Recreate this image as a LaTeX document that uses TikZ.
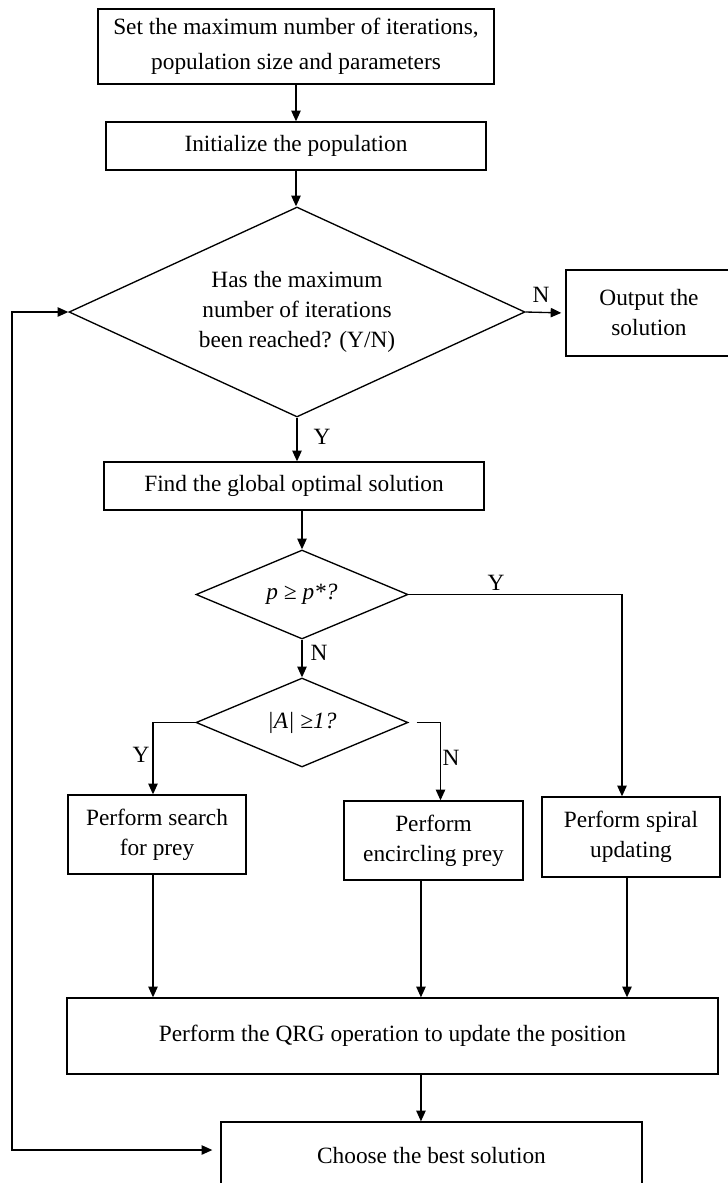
\documentclass[tikz,border=0pt]{standalone}
\usepackage{fontspec}
\setmainfont{Liberation Serif}
\usetikzlibrary{arrows.meta,shapes.geometric}

\newcommand{\flowfont}{\fontsize{17.5}{22.5}\selectfont}
\tikzset{every picture/.style={line width=1pt}}
\tikzset{
  flowbox/.style={draw, rectangle, inner sep=0pt, align=center, font=\flowfont},
  flowdiam/.style={draw, diamond, inner sep=0pt, align=center, font=\flowfont},
  flowlbl/.style={inner sep=0.75pt, font=\flowfont},
  flowarr/.style={-{Triangle[length=8pt,width=7pt]}},
  looparr/.style={{Triangle[length=8pt,width=7pt]}-{Triangle[length=8pt,width=7pt]}},
}

\begin{document}
\begin{tikzpicture}[x=0.75pt,y=0.75pt,yscale=-1,xscale=1]
\useasboundingbox (0,0) rectangle (728,1183);

%Shape: Rectangle [id:setbox]
\node [flowbox, minimum width=297pt, minimum height=56.25pt] (setbox) at (296,46.5) {Set the maximum number of iterations,\\[3.75pt] population size and parameters};
%Shape: Rectangle [id:initbox]
\node [flowbox, minimum width=285pt, minimum height=36pt] (initbox) at (296,146) {Initialize the population};
%Shape: Diamond [id:maxiter]
\node [flowdiam, aspect=2.171, minimum width=342pt, minimum height=157.5pt] (maxiter) at (297,312) {Has the maximum\\ number of iterations\\ been reached? (Y/N)};
%Shape: Rectangle [id:outbox]
\node [flowbox, minimum width=124.5pt, minimum height=64.5pt] (outbox) at (649,313) {Output the\\ solution};
%Shape: Rectangle [id:findbox]
\node [flowbox, minimum width=285pt, minimum height=36pt] (findbox) at (294,486) {Find the global optimal solution};
%Shape: Diamond [id:pdiam]
\node [flowdiam, aspect=2.38, minimum width=159pt, minimum height=66.75pt] (pdiam) at (302,594.5) {\textit{p ≥ p*?}};
%Shape: Diamond [id:adiam]
\node [flowdiam, aspect=2.38, minimum width=159pt, minimum height=66.75pt] (adiam) at (302,722.5) {\textit{|A| ≥1?}};
%Shape: Rectangle [id:searchbox]
\node [flowbox, minimum width=133.5pt, minimum height=59.25pt] (searchbox) at (157,834.5) {Perform search\\ for prey};
%Shape: Rectangle [id:encirclebox]
\node [flowbox, minimum width=134.25pt, minimum height=59.25pt] (encirclebox) at (433.5,840.5) {Perform\\ encircling prey};
%Shape: Rectangle [id:spiralbox]
\node [flowbox, minimum width=133.5pt, minimum height=60pt] (spiralbox) at (631,837) {Perform spiral\\ updating};
%Shape: Rectangle [id:qrgbox]
\node [flowbox, minimum width=488.25pt, minimum height=57pt] (qrgbox) at (392.5,1036) {Perform the QRG operation to update the position};
%Shape: Rectangle [id:choosebox]
\node [flowbox, minimum width=315.75pt, minimum height=51pt] (choosebox) at (431.5,1156) {Choose the best solution};

% Text Node
\node [flowlbl] (nout) at (541,295) {N};
% Text Node
\node [flowlbl] (yfind) at (322,437) {Y};
% Text Node
\node [flowlbl] (yspiral) at (496,583) {Y};
% Text Node
\node [flowlbl] (nadiam) at (319,653) {N};
% Text Node
\node [flowlbl] (ysearch) at (141,755) {Y};
% Text Node
\node [flowlbl] (nencircle) at (451,758) {N};
\coordinate (loopx) at (12,0);

% Connection
\draw [flowarr] (setbox.south) -- (initbox.north);
% Connection
\draw [flowarr] (initbox.south) -- (initbox.south |- maxiter.north);
% Connection
\draw [flowarr, shorten >=3pt] (maxiter.east) -- (outbox.west);
% Connection
\draw [flowarr] (maxiter.south) -- (maxiter.south |- findbox.north);
% Connection
\draw [flowarr] (findbox.south -| pdiam.north) -- (pdiam.north);
% Connection
\draw [flowarr] (pdiam.south) -- (adiam.north);
% Connection
\draw [flowarr] (pdiam.east) -| ([xshift=-6.75pt]spiralbox.north);
% Connection
\draw [flowarr] (adiam.west) -| ([xshift=-3pt]searchbox.north);
% Connection
\draw [flowarr] ([xshift=6pt]adiam.east) -| ([xshift=5.25pt]encirclebox.north);
% Connection
\draw [flowarr] ([xshift=-3pt]searchbox.south) -- ([xshift=-3pt]searchbox.south |- qrgbox.north);
% Connection
\draw [flowarr] ([xshift=-9.4pt]encirclebox.south) -- ([xshift=-9.4pt]encirclebox.south |- qrgbox.north);
% Connection
\draw [flowarr] ([xshift=-3pt]spiralbox.south) -- ([xshift=-3pt]spiralbox.south |- qrgbox.north);
% Connection
\draw [flowarr] ([xshift=-7.9pt]choosebox.north |- qrgbox.south) -- ([xshift=-7.9pt]choosebox.north);
% Connection
\draw [looparr, shorten >=6pt] (maxiter.west) -- (maxiter.west -| loopx) |- ([yshift=-4.5pt]choosebox.west);

\end{tikzpicture}
\end{document}
